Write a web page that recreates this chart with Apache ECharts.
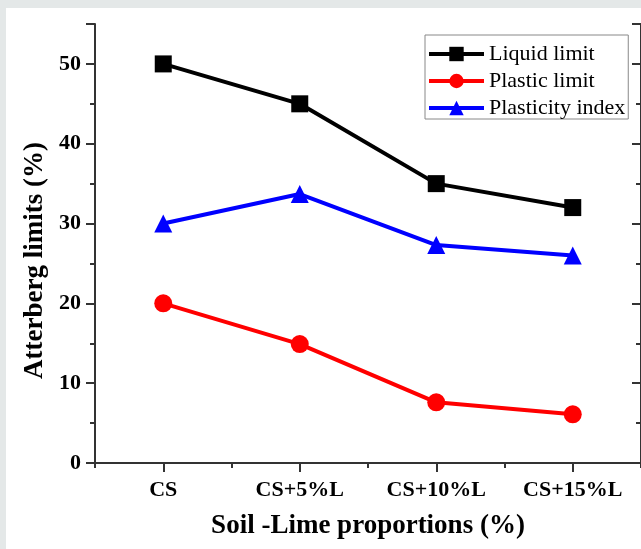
<!DOCTYPE html>
<html>
<head>
<meta charset="utf-8">
<script src="https://cdn.jsdelivr.net/npm/echarts@6/dist/echarts.min.js"></script>
<style>
  html, body { margin: 0; padding: 0; background: #e4e8e8; }
  #chart {
    position: absolute;
    left: 6px;
    top: 8px;
    width: 635px;
    height: 541px;
    background: #ffffff;
  }
</style>
</head>
<body>
<div id="chart"></div>
<script>
/* ── Data ── */
const categories = ['CS', 'CS+5%L', 'CS+10%L', 'CS+15%L']
const liquidLimit = [50, 45, 35, 32]
const plasticLimit = [20, 14.9, 7.6, 6.1]
const plasticityIndex = [30, 33.7, 27.3, 26]
const seriesNames = ['Liquid limit', 'Plastic limit', 'Plasticity index']

const FONT = 'Liberation Serif'
const AXIS_COLOR = '#333'

/* ── Axis helpers ── */
// major ticks sit on the categories, minor ticks on the category borders
function catAxis(position, major, withLabels) {
  const inside = position === 'top'
  return {
    type: 'category',
    data: categories,
    position,
    boundaryGap: true,
    axisLine: { show: major, lineStyle: { color: AXIS_COLOR, width: 2 } },
    axisTick: {
      show: true,
      interval: 0,
      alignWithLabel: major,
      inside,
      length: major ? 9 : 5,
      lineStyle: { color: AXIS_COLOR, width: 2 },
    },
    axisLabel: {
      show: withLabels,
      interval: 0,
      margin: 16,
      color: '#000',
      fontFamily: FONT,
      fontWeight: 'bold',
      fontSize: 22,
    },
    splitLine: { show: false },
  }
}

function valAxis(position, major, withLabels) {
  const inside = position === 'right'
  return {
    type: 'value',
    position,
    min: 0,
    max: 55,
    interval: major ? 10 : 5,
    axisLine: { show: major, lineStyle: { color: AXIS_COLOR, width: 2 } },
    axisTick: {
      show: true,
      inside,
      length: major ? 9 : 5,
      lineStyle: { color: AXIS_COLOR, width: 2 },
    },
    axisLabel: {
      show: withLabels,
      margin: 14,
      color: '#000',
      fontFamily: FONT,
      fontWeight: 'bold',
      fontSize: 22,
      formatter: (v) => (v % 10 === 0 ? String(v) : ''),
    },
    splitLine: { show: false },
  }
}

const bottomAxis = catAxis('bottom', true, true)
bottomAxis.name = 'Soil -Lime proportions (%)'
bottomAxis.nameLocation = 'middle'
bottomAxis.nameGap = 50
bottomAxis.nameTextStyle = { color: '#000', fontFamily: FONT, fontWeight: 'bold', fontSize: 27 }

const leftAxis = valAxis('left', true, true)
leftAxis.name = 'Atterberg limits (%)'
leftAxis.nameLocation = 'middle'
leftAxis.nameGap = 45
// the title sits a bit below the middle of the axis
leftAxis.nameTextStyle = {
  color: '#000', fontFamily: FONT, fontWeight: 'bold', fontSize: 27,
  padding: [0, 34, 0, 0],
}

function lineSeries(name, data, color, symbol, size) {
  return {
    name,
    type: 'line',
    data,
    xAxisIndex: 0,
    yAxisIndex: 0,
    symbol,
    symbolSize: size,
    lineStyle: { color, width: 4 },
    itemStyle: { color },
  }
}

/* ── Chart ── */
const chart = echarts.init(document.getElementById('chart'), null, { renderer: 'canvas' })

chart.setOption({
  animation: false,
  backgroundColor: '#ffffff',
  textStyle: { fontFamily: FONT },
  grid: { left: 89, top: 16, right: -3, bottom: 86 },
  legend: {
    orient: 'vertical',
    left: 419,
    top: 27,
    data: seriesNames,
    itemWidth: 55,
    itemHeight: 18,
    itemGap: 5,
    padding: [8, 3, 0, 2],
    borderColor: '#888',
    borderWidth: 1,
    lineStyle: { width: 4 },
    textStyle: { color: '#000', fontFamily: FONT, fontSize: 22 },
  },
  xAxis: [
    bottomAxis,
    catAxis('bottom', false, false),
    catAxis('top', true, false),
    catAxis('top', false, false),
  ],
  yAxis: [
    leftAxis,
    valAxis('left', false, false),
    valAxis('right', true, false),
    valAxis('right', false, false),
  ],
  series: [
    lineSeries(seriesNames[0], liquidLimit, '#000000', 'rect', 17),
    lineSeries(seriesNames[1], plasticLimit, '#ff0000', 'circle', 18),
    lineSeries(seriesNames[2], plasticityIndex, '#0000ff', 'triangle', 18),
  ],
})

window.addEventListener('resize', () => chart.resize())
</script>
</body>
</html>
